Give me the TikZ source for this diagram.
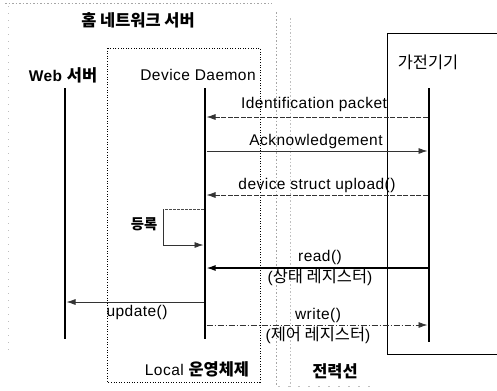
\documentclass[tikz,border=0pt]{standalone}
\usepackage{fontspec}
\setmainfont{Liberation Sans}[LetterSpace=3]
\newfontfamily\kr{Noto Sans CJK KR}[Scale=1.06]
\usetikzlibrary{arrows.meta}
\tikzset{
  lbl/.style={inner sep=0pt, font=\fontsize{15.5bp}{18bp}\selectfont},
  life/.style={line width=2.6bp, black},
  msg/.style={line width=0.8bp, black!80, -{Latex[length=9bp,width=6bp]}},
  msgdash/.style={msg, dash pattern=on 5bp off 1.5bp},
  faint/.style={black!35, line width=0.5bp, dash pattern=on 1.5bp off 2bp},
}
\begin{document}
\begin{tikzpicture}[x=1bp,y=-1bp]
\useasboundingbox[fill=white] (0,0) rectangle (497,390);
% faint frame of home server
\draw[faint] (5,3) -- (272,3);
\draw[faint, black!25, dash pattern=on 1bp off 6bp] (8,6) -- (8,350);
\draw[faint] (276,12) -- (276,386);
\draw[faint, black!25] (290,18) -- (290,386);
\draw[faint, black!25, dash pattern=on 2bp off 8bp] (278,386) -- (372,386);
% Local OS dotted box
\draw[line width=0.9bp, dash pattern=on 1bp off 1.6bp] (107,48) rectangle (260,382);
% device box
\draw[line width=1bp] (497,33) -- (387,33) -- (387,354) -- (497,354);
% labels
\node[lbl] (title) at (138,20) {\bfseries\kr 홈 네트워크 서버};
\node[lbl] (web) at (63,75) {\bfseries Web {\kr 서버}};
\node[lbl] (dd) at (198,75) {Device Daemon};
\node[lbl] (dev) at (428,62) {\kr 가전기기};
\node[lbl] (los) at (197,369) {Local {\bfseries\kr 운영체제}};
\node[lbl] (pl) at (335,371) {\bfseries\kr 전력선};
% lifelines
\coordinate (wt) at (65,88);  \coordinate (wb) at (65,339);
\coordinate (dt) at (205,88); \coordinate (db) at (205,339);
\coordinate (vt) at (429,88); \coordinate (vb) at (429,342);
\draw[life] (wt) -- (wb);
\draw[life] (dt) -- (db);
\draw[life] (vt) -- (vb);
% message endpoints
\coordinate (d1) at (206.5,117); \coordinate (v1) at (427.5,117);
\coordinate (d2) at (206.5,151); \coordinate (v2) at (427.5,151);
\coordinate (d3) at (206.5,195); \coordinate (v3) at (427.5,195);
\coordinate (d4) at (203.5,209); \coordinate (l1) at (163,209);
\coordinate (l2) at (163,245);   \coordinate (d5) at (203.5,245);
\coordinate (d6) at (206.5,268); \coordinate (v6) at (427.5,268);
\coordinate (d7) at (203.5,302); \coordinate (w7) at (66.5,302);
\coordinate (d8) at (206.5,325); \coordinate (v8) at (427.5,325);
% messages
\draw[msgdash] (v1) -- (d1);
\draw[msg] (d2) -- (v2);
\draw[msgdash] (v3) -- (d3);
\draw[line width=0.7bp, black!70, dash pattern=on 3bp off 1bp] (d4) -- (l1);
\draw[msg] (l1) -- (l2) -- (d5);
\draw[msg, line width=1.3bp, black] (v6) -- (d6);
\draw[msg] (d7) -- (w7);
\draw[msgdash, dash pattern=on 6bp off 2bp on 1bp off 2bp] (d8) -- (v8);
% message labels
\node[lbl] (m1) at (314,104) {Identification packet};
\node[lbl] (m2) at (316,141) {Acknowledgement};
\node[lbl] (m3) at (317,185) {device struct upload()};
\node[lbl, font=\fontsize{13.5bp}{15bp}\selectfont] (m4) at (144,224) {\bfseries\kr 등록};
\node[lbl] (m5) at (320,257) {read()};
\node[lbl] (m5b) at (320,277) {({\kr 상태 레지스터})};
\node[lbl] (m7) at (137,312) {update()};
\node[lbl] (m8) at (318,315) {write()};
\node[lbl] (m8b) at (318,335) {({\kr 제어 레지스터})};
\end{tikzpicture}
\end{document}
